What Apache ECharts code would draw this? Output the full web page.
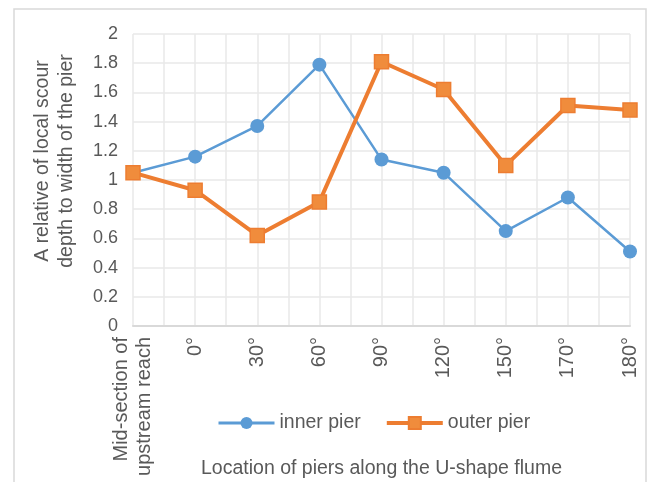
<!DOCTYPE html>
<html>
<head>
<meta charset="utf-8">
<script src="https://cdn.jsdelivr.net/npm/echarts@6/dist/echarts.min.js"></script>
<style>
  html, body { margin: 0; padding: 0; background: #fff; }
  #chart { width: 647px; height: 482px; }
</style>
</head>
<body>
<div id="chart"></div>
<script>
  // categories along the flume
  const locations = ['Mid-section of\nupstream reach', '0°', '30°', '60°', '90°', '120°', '150°', '170°', '180°'];
  // relative scour depth / pier width
  const innerPier = [1.05, 1.16, 1.37, 1.79, 1.14, 1.05, 0.65, 0.88, 0.51];
  const outerPier = [1.05, 0.93, 0.62, 0.85, 1.81, 1.62, 1.10, 1.51, 1.48];

  const txt = '#595959';
  const font = 'Liberation Sans';

  let chart = echarts.init(document.getElementById('chart'));
  chart.setOption({
    animation: false,
    textStyle: { fontFamily: font, color: txt },
    graphic: [{
      type: 'rect',
      shape: { x: 14, y: 9, width: 632, height: 500 },
      style: { fill: 'none', stroke: '#d9d9d9', lineWidth: 1.5 }
    }],
    grid: { left: 133, right: 17, top: 34, bottom: 156, containLabel: false, outerBoundsMode: 'none' },
    legend: {
      top: 408,
      left: 212,
      itemWidth: 56,
      itemHeight: 15,
      itemGap: 24,
      textStyle: { fontSize: 19.5, color: txt, fontFamily: font },
      data: [
        { name: 'inner pier', lineStyle: { width: 3 } },
        { name: 'outer pier', lineStyle: { width: 4 } }
      ]
    },
    xAxis: [{
      type: 'category',
      data: locations,
      boundaryGap: false,
      axisLine: { lineStyle: { color: '#d9d9d9', width: 2 } },
      axisTick: { show: false },
      axisLabel: { rotate: 90, fontSize: 20, color: txt, margin: 11, lineHeight: 23, fontFamily: font },
      splitLine: { show: false },
      name: 'Location of piers along the U-shape flume',
      nameLocation: 'middle',
      nameGap: 133,
      nameMoveOverlap: false,
      nameTextStyle: { fontSize: 19.5, color: txt, fontFamily: font }
    }, {
      // half-step vertical grid lines
      type: 'value',
      min: 0, max: 16, interval: 1,
      position: 'bottom',
      axisLine: { show: false },
      axisTick: { show: false },
      axisLabel: { show: false },
      splitLine: { show: true, lineStyle: { color: '#e8e8e8', width: 1.5 } }
    }],
    yAxis: {
      type: 'value',
      min: 0, max: 2, interval: 0.2,
      axisLine: { show: false },
      axisTick: { show: false },
      axisLabel: { fontSize: 18, color: txt, margin: 15, fontFamily: font },
      splitLine: { lineStyle: { color: '#e8e8e8', width: 1.5 } },
      name: 'A relative of local scour\ndepth to width of the pier',
      nameLocation: 'middle',
      nameGap: 54,
      nameTextStyle: { fontSize: 19.5, color: txt, lineHeight: 24, fontFamily: font, padding: [0, 0, 0, 38] }
    },
    series: [
      {
        name: 'inner pier',
        type: 'line',
        data: innerPier,
        symbol: 'circle',
        symbolSize: 14,
        lineStyle: { color: '#5B9BD5', width: 2.5 },
        itemStyle: { color: '#5B9BD5' }
      },
      {
        name: 'outer pier',
        type: 'line',
        data: outerPier,
        symbol: 'rect',
        symbolSize: 14,
        lineStyle: { color: '#ED7D31', width: 4 },
        itemStyle: { color: '#F08C3C', borderColor: '#ED7D31', borderWidth: 1.5 }
      }
    ]
  });
</script>
</body>
</html>
